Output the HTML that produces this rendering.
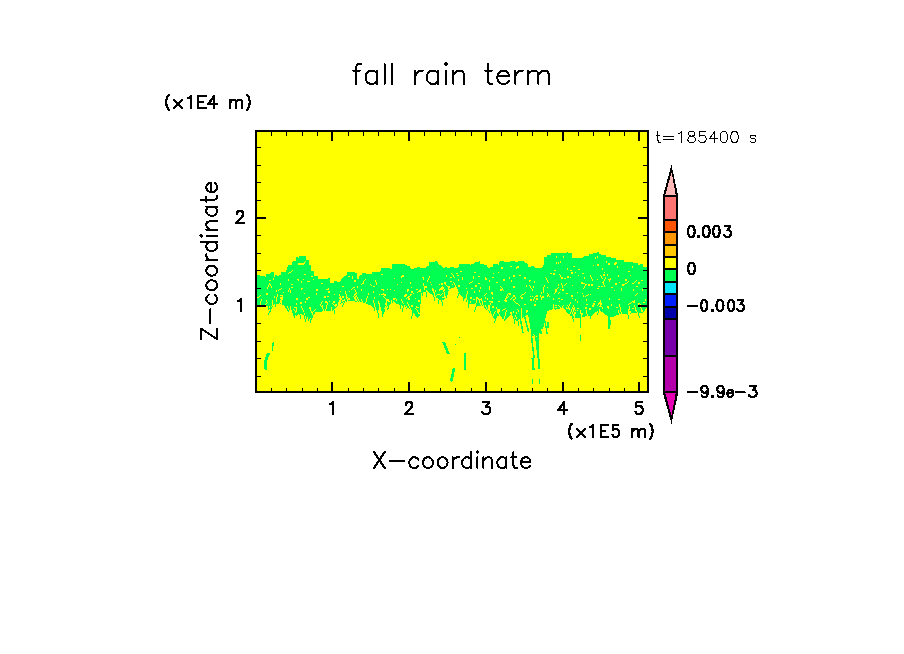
<!DOCTYPE html><html><head><meta charset="utf-8"><style>html,body{margin:0;padding:0;background:#fff;overflow:hidden}svg{display:block}</style></head><body><svg width="904" height="654" viewBox="0 0 904 654"><rect x="0" y="0" width="904" height="654" fill="#fff"/><rect x="256" y="131" width="392" height="261" fill="#ffff00"/><g shape-rendering="crispEdges"><path d="M567 252h1v1h-1zM597 252h2v1h-2zM551 253h21v1h-21zM593 253h6v1h-6zM551 254h21v1h-21zM589 254h12v1h-12zM547 255h25v1h-25zM589 255h17v1h-17zM299 256h7v1h-7zM547 256h9v1h-9zM557 256h6v1h-6zM564 256h8v1h-8zM584 256h13v1h-13zM598 256h8v1h-8zM296 257h2v1h-2zM299 257h7v1h-7zM544 257h12v1h-12zM557 257h6v1h-6zM564 257h8v1h-8zM583 257h12v1h-12zM596 257h1v1h-1zM598 257h13v1h-13zM296 258h10v1h-10zM544 258h51v1h-51zM596 258h20v1h-20zM296 259h10v1h-10zM544 259h72v1h-72zM296 260h13v1h-13zM544 260h80v1h-80zM293 261h12v1h-12zM306 261h3v1h-3zM435 261h2v1h-2zM479 261h1v1h-1zM500 261h4v1h-4zM510 261h5v1h-5zM518 261h6v1h-6zM544 261h16v1h-16zM561 261h45v1h-45zM607 261h17v1h-17zM292 262h12v1h-12zM305 262h4v1h-4zM429 262h9v1h-9zM475 262h5v1h-5zM499 262h26v1h-26zM544 262h12v1h-12zM557 262h1v1h-1zM559 262h1v1h-1zM561 262h45v1h-45zM607 262h8v1h-8zM617 262h16v1h-16zM292 263h12v1h-12zM305 263h4v1h-4zM429 263h9v1h-9zM474 263h6v1h-6zM499 263h28v1h-28zM544 263h12v1h-12zM557 263h1v1h-1zM559 263h49v1h-49zM610 263h4v1h-4zM617 263h21v1h-21zM292 264h11v1h-11zM304 264h5v1h-5zM392 264h13v1h-13zM429 264h10v1h-10zM459 264h11v1h-11zM471 264h13v1h-13zM493 264h5v1h-5zM499 264h29v1h-29zM544 264h53v1h-53zM599 264h9v1h-9zM610 264h4v1h-4zM616 264h22v1h-22zM640 264h3v1h-3zM288 265h23v1h-23zM392 265h15v1h-15zM429 265h12v1h-12zM459 265h28v1h-28zM493 265h35v1h-35zM543 265h50v1h-50zM594 265h3v1h-3zM599 265h44v1h-44zM288 266h23v1h-23zM392 266h18v1h-18zM427 266h15v1h-15zM459 266h28v1h-28zM493 266h17v1h-17zM512 266h5v1h-5zM519 266h9v1h-9zM531 266h3v1h-3zM543 266h30v1h-30zM575 266h42v1h-42zM618 266h14v1h-14zM633 266h10v1h-10zM287 267h24v1h-24zM392 267h18v1h-18zM417 267h3v1h-3zM426 267h17v1h-17zM445 267h2v1h-2zM450 267h4v1h-4zM458 267h30v1h-30zM490 267h11v1h-11zM503 267h13v1h-13zM519 267h16v1h-16zM542 267h75v1h-75zM618 267h14v1h-14zM633 267h14v1h-14zM287 268h24v1h-24zM381 268h9v1h-9zM392 268h19v1h-19zM414 268h87v1h-87zM503 268h13v1h-13zM517 268h50v1h-50zM568 268h34v1h-34zM603 268h44v1h-44zM287 269h24v1h-24zM381 269h186v1h-186zM568 269h10v1h-10zM580 269h22v1h-22zM603 269h44v1h-44zM286 270h6v1h-6zM293 270h18v1h-18zM381 270h173v1h-173zM556 270h14v1h-14zM572 270h75v1h-75zM286 271h5v1h-5zM292 271h22v1h-22zM380 271h80v1h-80zM462 271h166v1h-166zM630 271h17v1h-17zM271 272h3v1h-3zM281 272h8v1h-8zM291 272h23v1h-23zM347 272h8v1h-8zM372 272h102v1h-102zM476 272h22v1h-22zM499 272h72v1h-72zM573 272h2v1h-2zM576 272h28v1h-28zM605 272h42v1h-42zM270 273h4v1h-4zM281 273h7v1h-7zM289 273h25v1h-25zM347 273h10v1h-10zM362 273h4v1h-4zM372 273h79v1h-79zM452 273h4v1h-4zM458 273h35v1h-35zM494 273h56v1h-56zM552 273h1v1h-1zM555 273h16v1h-16zM573 273h9v1h-9zM584 273h63v1h-63zM266 274h8v1h-8zM281 274h23v1h-23zM306 274h8v1h-8zM347 274h10v1h-10zM362 274h19v1h-19zM383 274h69v1h-69zM453 274h100v1h-100zM555 274h4v1h-4zM560 274h43v1h-43zM605 274h2v1h-2zM608 274h39v1h-39zM257 275h3v1h-3zM266 275h8v1h-8zM275 275h2v1h-2zM279 275h35v1h-35zM346 275h11v1h-11zM360 275h42v1h-42zM404 275h42v1h-42zM447 275h6v1h-6zM454 275h3v1h-3zM459 275h54v1h-54zM515 275h4v1h-4zM521 275h39v1h-39zM561 275h17v1h-17zM579 275h11v1h-11zM591 275h9v1h-9zM601 275h2v1h-2zM605 275h2v1h-2zM608 275h10v1h-10zM619 275h11v1h-11zM631 275h16v1h-16zM257 276h8v1h-8zM266 276h8v1h-8zM275 276h36v1h-36zM313 276h5v1h-5zM344 276h4v1h-4zM350 276h2v1h-2zM353 276h4v1h-4zM359 276h42v1h-42zM404 276h25v1h-25zM430 276h16v1h-16zM447 276h6v1h-6zM454 276h19v1h-19zM474 276h4v1h-4zM480 276h33v1h-33zM515 276h45v1h-45zM561 276h6v1h-6zM569 276h21v1h-21zM591 276h10v1h-10zM602 276h16v1h-16zM619 276h28v1h-28zM257 277h61v1h-61zM343 277h9v1h-9zM353 277h4v1h-4zM359 277h42v1h-42zM402 277h20v1h-20zM424 277h5v1h-5zM430 277h20v1h-20zM452 277h2v1h-2zM455 277h7v1h-7zM463 277h10v1h-10zM474 277h11v1h-11zM486 277h6v1h-6zM494 277h15v1h-15zM510 277h14v1h-14zM526 277h19v1h-19zM546 277h15v1h-15zM563 277h4v1h-4zM569 277h1v1h-1zM571 277h13v1h-13zM585 277h6v1h-6zM592 277h9v1h-9zM602 277h3v1h-3zM606 277h41v1h-41zM257 278h16v1h-16zM274 278h44v1h-44zM328 278h2v1h-2zM342 278h10v1h-10zM353 278h4v1h-4zM359 278h35v1h-35zM395 278h28v1h-28zM424 278h4v1h-4zM429 278h33v1h-33zM463 278h10v1h-10zM474 278h11v1h-11zM487 278h22v1h-22zM510 278h14v1h-14zM526 278h20v1h-20zM547 278h14v1h-14zM563 278h1v1h-1zM566 278h18v1h-18zM585 278h6v1h-6zM592 278h10v1h-10zM603 278h2v1h-2zM606 278h4v1h-4zM611 278h36v1h-36zM257 279h16v1h-16zM274 279h14v1h-14zM289 279h8v1h-8zM299 279h4v1h-4zM304 279h9v1h-9zM314 279h16v1h-16zM341 279h24v1h-24zM366 279h57v1h-57zM424 279h4v1h-4zM429 279h29v1h-29zM459 279h3v1h-3zM463 279h22v1h-22zM487 279h16v1h-16zM505 279h41v1h-41zM547 279h45v1h-45zM593 279h4v1h-4zM598 279h6v1h-6zM605 279h3v1h-3zM611 279h14v1h-14zM627 279h20v1h-20zM257 280h12v1h-12zM271 280h17v1h-17zM289 280h9v1h-9zM299 280h31v1h-31zM341 280h13v1h-13zM356 280h8v1h-8zM365 280h10v1h-10zM376 280h51v1h-51zM428 280h30v1h-30zM459 280h30v1h-30zM490 280h13v1h-13zM505 280h6v1h-6zM512 280h17v1h-17zM531 280h16v1h-16zM548 280h44v1h-44zM593 280h11v1h-11zM605 280h4v1h-4zM610 280h15v1h-15zM627 280h9v1h-9zM637 280h4v1h-4zM643 280h4v1h-4zM257 281h44v1h-44zM302 281h5v1h-5zM310 281h20v1h-20zM334 281h3v1h-3zM340 281h14v1h-14zM356 281h7v1h-7zM364 281h11v1h-11zM376 281h51v1h-51zM428 281h22v1h-22zM452 281h20v1h-20zM473 281h16v1h-16zM490 281h21v1h-21zM512 281h17v1h-17zM530 281h4v1h-4zM535 281h12v1h-12zM548 281h55v1h-55zM604 281h5v1h-5zM610 281h18v1h-18zM629 281h6v1h-6zM636 281h11v1h-11zM257 282h44v1h-44zM302 282h28v1h-28zM334 282h29v1h-29zM364 282h12v1h-12zM377 282h24v1h-24zM402 282h8v1h-8zM411 282h19v1h-19zM431 282h13v1h-13zM446 282h7v1h-7zM454 282h16v1h-16zM472 282h24v1h-24zM498 282h36v1h-36zM535 282h13v1h-13zM549 282h32v1h-32zM583 282h19v1h-19zM604 282h15v1h-15zM620 282h7v1h-7zM628 282h6v1h-6zM635 282h3v1h-3zM640 282h7v1h-7zM257 283h12v1h-12zM270 283h10v1h-10zM281 283h40v1h-40zM323 283h39v1h-39zM364 283h12v1h-12zM377 283h33v1h-33zM411 283h12v1h-12zM424 283h17v1h-17zM443 283h1v1h-1zM446 283h8v1h-8zM455 283h14v1h-14zM470 283h8v1h-8zM480 283h81v1h-81zM562 283h4v1h-4zM567 283h14v1h-14zM585 283h18v1h-18zM604 283h11v1h-11zM617 283h8v1h-8zM627 283h5v1h-5zM634 283h4v1h-4zM640 283h7v1h-7zM257 284h12v1h-12zM271 284h9v1h-9zM281 284h10v1h-10zM293 284h68v1h-68zM362 284h8v1h-8zM371 284h5v1h-5zM377 284h20v1h-20zM398 284h25v1h-25zM424 284h7v1h-7zM432 284h7v1h-7zM440 284h1v1h-1zM443 284h2v1h-2zM446 284h6v1h-6zM453 284h1v1h-1zM455 284h103v1h-103zM559 284h2v1h-2zM562 284h3v1h-3zM566 284h19v1h-19zM587 284h1v1h-1zM590 284h1v1h-1zM593 284h10v1h-10zM604 284h11v1h-11zM617 284h5v1h-5zM625 284h22v1h-22zM257 285h11v1h-11zM269 285h1v1h-1zM271 285h100v1h-100zM372 285h51v1h-51zM424 285h22v1h-22zM447 285h8v1h-8zM456 285h2v1h-2zM460 285h15v1h-15zM477 285h49v1h-49zM527 285h2v1h-2zM530 285h14v1h-14zM545 285h13v1h-13zM559 285h3v1h-3zM563 285h1v1h-1zM565 285h7v1h-7zM573 285h12v1h-12zM586 285h2v1h-2zM590 285h1v1h-1zM593 285h11v1h-11zM605 285h17v1h-17zM624 285h23v1h-23zM257 286h11v1h-11zM269 286h2v1h-2zM272 286h70v1h-70zM344 286h13v1h-13zM358 286h15v1h-15zM375 286h49v1h-49zM427 286h15v1h-15zM443 286h4v1h-4zM450 286h5v1h-5zM456 286h2v1h-2zM460 286h15v1h-15zM477 286h12v1h-12zM490 286h10v1h-10zM501 286h12v1h-12zM515 286h11v1h-11zM527 286h3v1h-3zM531 286h2v1h-2zM534 286h10v1h-10zM545 286h17v1h-17zM563 286h21v1h-21zM585 286h13v1h-13zM600 286h1v1h-1zM603 286h1v1h-1zM605 286h31v1h-31zM638 286h9v1h-9zM257 287h10v1h-10zM268 287h3v1h-3zM272 287h19v1h-19zM293 287h60v1h-60zM355 287h2v1h-2zM358 287h53v1h-53zM412 287h12v1h-12zM427 287h14v1h-14zM444 287h4v1h-4zM450 287h4v1h-4zM457 287h23v1h-23zM481 287h8v1h-8zM490 287h11v1h-11zM502 287h11v1h-11zM515 287h15v1h-15zM531 287h2v1h-2zM534 287h9v1h-9zM544 287h3v1h-3zM548 287h10v1h-10zM559 287h3v1h-3zM563 287h21v1h-21zM585 287h26v1h-26zM613 287h34v1h-34zM257 288h10v1h-10zM268 288h13v1h-13zM282 288h7v1h-7zM290 288h11v1h-11zM303 288h25v1h-25zM329 288h23v1h-23zM353 288h71v1h-71zM425 288h7v1h-7zM433 288h7v1h-7zM444 288h4v1h-4zM449 288h2v1h-2zM457 288h9v1h-9zM467 288h4v1h-4zM473 288h7v1h-7zM481 288h8v1h-8zM490 288h12v1h-12zM503 288h28v1h-28zM532 288h11v1h-11zM544 288h13v1h-13zM558 288h25v1h-25zM584 288h13v1h-13zM599 288h22v1h-22zM622 288h25v1h-25zM257 289h22v1h-22zM281 289h8v1h-8zM290 289h11v1h-11zM302 289h14v1h-14zM318 289h8v1h-8zM329 289h22v1h-22zM352 289h2v1h-2zM355 289h6v1h-6zM362 289h19v1h-19zM384 289h3v1h-3zM388 289h2v1h-2zM391 289h16v1h-16zM409 289h7v1h-7zM418 289h2v1h-2zM421 289h3v1h-3zM425 289h7v1h-7zM434 289h5v1h-5zM443 289h1v1h-1zM445 289h3v1h-3zM458 289h31v1h-31zM490 289h10v1h-10zM503 289h29v1h-29zM533 289h10v1h-10zM544 289h11v1h-11zM557 289h3v1h-3zM561 289h1v1h-1zM564 289h57v1h-57zM622 289h11v1h-11zM634 289h8v1h-8zM643 289h4v1h-4zM257 290h19v1h-19zM277 290h1v1h-1zM279 290h9v1h-9zM289 290h1v1h-1zM291 290h25v1h-25zM318 290h37v1h-37zM356 290h5v1h-5zM362 290h21v1h-21zM384 290h10v1h-10zM395 290h12v1h-12zM409 290h10v1h-10zM421 290h5v1h-5zM427 290h5v1h-5zM434 290h1v1h-1zM436 290h3v1h-3zM440 290h3v1h-3zM445 290h4v1h-4zM458 290h21v1h-21zM480 290h20v1h-20zM502 290h1v1h-1zM504 290h28v1h-28zM533 290h10v1h-10zM544 290h11v1h-11zM557 290h5v1h-5zM564 290h50v1h-50zM615 290h6v1h-6zM622 290h11v1h-11zM634 290h8v1h-8zM643 290h4v1h-4zM257 291h19v1h-19zM277 291h11v1h-11zM289 291h1v1h-1zM291 291h37v1h-37zM330 291h10v1h-10zM341 291h4v1h-4zM346 291h3v1h-3zM350 291h5v1h-5zM356 291h17v1h-17zM374 291h33v1h-33zM408 291h3v1h-3zM413 291h5v1h-5zM421 291h5v1h-5zM428 291h5v1h-5zM434 291h1v1h-1zM436 291h7v1h-7zM444 291h4v1h-4zM458 291h9v1h-9zM468 291h6v1h-6zM475 291h4v1h-4zM480 291h63v1h-63zM544 291h11v1h-11zM557 291h90v1h-90zM257 292h26v1h-26zM284 292h6v1h-6zM291 292h37v1h-37zM330 292h15v1h-15zM346 292h10v1h-10zM357 292h16v1h-16zM374 292h37v1h-37zM413 292h4v1h-4zM418 292h5v1h-5zM426 292h1v1h-1zM429 292h4v1h-4zM435 292h9v1h-9zM445 292h3v1h-3zM459 292h8v1h-8zM468 292h6v1h-6zM475 292h16v1h-16zM493 292h32v1h-32zM526 292h15v1h-15zM542 292h1v1h-1zM544 292h11v1h-11zM556 292h3v1h-3zM560 292h17v1h-17zM578 292h69v1h-69zM257 293h9v1h-9zM268 293h36v1h-36zM305 293h11v1h-11zM317 293h28v1h-28zM346 293h9v1h-9zM357 293h11v1h-11zM369 293h14v1h-14zM384 293h29v1h-29zM414 293h7v1h-7zM422 293h1v1h-1zM426 293h1v1h-1zM430 293h4v1h-4zM435 293h7v1h-7zM443 293h1v1h-1zM445 293h3v1h-3zM458 293h9v1h-9zM468 293h18v1h-18zM487 293h4v1h-4zM493 293h15v1h-15zM511 293h13v1h-13zM525 293h16v1h-16zM542 293h5v1h-5zM548 293h6v1h-6zM555 293h3v1h-3zM559 293h7v1h-7zM568 293h14v1h-14zM583 293h54v1h-54zM638 293h9v1h-9zM257 294h9v1h-9zM268 294h9v1h-9zM278 294h38v1h-38zM317 294h17v1h-17zM335 294h4v1h-4zM340 294h6v1h-6zM347 294h7v1h-7zM356 294h12v1h-12zM369 294h10v1h-10zM380 294h1v1h-1zM386 294h19v1h-19zM407 294h3v1h-3zM412 294h9v1h-9zM422 294h1v1h-1zM426 294h1v1h-1zM432 294h2v1h-2zM435 294h2v1h-2zM440 294h1v1h-1zM442 294h2v1h-2zM445 294h3v1h-3zM458 294h1v1h-1zM460 294h6v1h-6zM467 294h18v1h-18zM486 294h6v1h-6zM493 294h14v1h-14zM508 294h1v1h-1zM511 294h11v1h-11zM524 294h24v1h-24zM549 294h39v1h-39zM589 294h1v1h-1zM591 294h45v1h-45zM637 294h10v1h-10zM257 295h3v1h-3zM261 295h16v1h-16zM278 295h2v1h-2zM283 295h56v1h-56zM340 295h6v1h-6zM347 295h7v1h-7zM355 295h1v1h-1zM357 295h27v1h-27zM386 295h18v1h-18zM407 295h3v1h-3zM411 295h10v1h-10zM422 295h1v1h-1zM426 295h1v1h-1zM433 295h1v1h-1zM435 295h1v1h-1zM437 295h3v1h-3zM441 295h3v1h-3zM445 295h2v1h-2zM458 295h1v1h-1zM461 295h5v1h-5zM467 295h17v1h-17zM485 295h22v1h-22zM508 295h5v1h-5zM515 295h6v1h-6zM522 295h14v1h-14zM538 295h2v1h-2zM541 295h6v1h-6zM549 295h22v1h-22zM573 295h10v1h-10zM584 295h2v1h-2zM588 295h47v1h-47zM636 295h11v1h-11zM257 296h2v1h-2zM260 296h14v1h-14zM275 296h2v1h-2zM278 296h4v1h-4zM283 296h41v1h-41zM326 296h1v1h-1zM329 296h11v1h-11zM341 296h1v1h-1zM344 296h2v1h-2zM347 296h6v1h-6zM354 296h1v1h-1zM357 296h10v1h-10zM368 296h15v1h-15zM384 296h20v1h-20zM406 296h2v1h-2zM410 296h11v1h-11zM426 296h1v1h-1zM433 296h1v1h-1zM436 296h8v1h-8zM446 296h1v1h-1zM457 296h1v1h-1zM462 296h4v1h-4zM467 296h39v1h-39zM507 296h1v1h-1zM509 296h4v1h-4zM515 296h5v1h-5zM521 296h9v1h-9zM531 296h1v1h-1zM533 296h2v1h-2zM538 296h2v1h-2zM541 296h1v1h-1zM544 296h3v1h-3zM548 296h1v1h-1zM550 296h21v1h-21zM573 296h10v1h-10zM584 296h1v1h-1zM586 296h61v1h-61zM259 297h15v1h-15zM275 297h1v1h-1zM277 297h3v1h-3zM283 297h25v1h-25zM310 297h14v1h-14zM326 297h13v1h-13zM341 297h1v1h-1zM344 297h2v1h-2zM348 297h6v1h-6zM356 297h1v1h-1zM358 297h9v1h-9zM368 297h6v1h-6zM375 297h9v1h-9zM385 297h22v1h-22zM409 297h12v1h-12zM434 297h1v1h-1zM436 297h6v1h-6zM446 297h1v1h-1zM457 297h1v1h-1zM463 297h3v1h-3zM467 297h3v1h-3zM472 297h4v1h-4zM478 297h7v1h-7zM486 297h6v1h-6zM493 297h13v1h-13zM508 297h4v1h-4zM513 297h2v1h-2zM516 297h5v1h-5zM523 297h11v1h-11zM535 297h6v1h-6zM544 297h103v1h-103zM257 298h19v1h-19zM277 298h3v1h-3zM283 298h13v1h-13zM298 298h8v1h-8zM308 298h31v1h-31zM342 298h4v1h-4zM347 298h1v1h-1zM350 298h4v1h-4zM356 298h1v1h-1zM358 298h8v1h-8zM367 298h7v1h-7zM375 298h10v1h-10zM386 298h7v1h-7zM396 298h10v1h-10zM407 298h1v1h-1zM410 298h5v1h-5zM416 298h5v1h-5zM434 298h1v1h-1zM438 298h7v1h-7zM463 298h2v1h-2zM467 298h3v1h-3zM472 298h4v1h-4zM479 298h2v1h-2zM482 298h3v1h-3zM486 298h1v1h-1zM488 298h4v1h-4zM493 298h12v1h-12zM507 298h4v1h-4zM512 298h3v1h-3zM516 298h5v1h-5zM523 298h11v1h-11zM535 298h1v1h-1zM538 298h3v1h-3zM542 298h11v1h-11zM554 298h4v1h-4zM560 298h12v1h-12zM573 298h36v1h-36zM610 298h37v1h-37zM257 299h4v1h-4zM262 299h14v1h-14zM277 299h4v1h-4zM283 299h13v1h-13zM298 299h8v1h-8zM308 299h32v1h-32zM342 299h2v1h-2zM345 299h2v1h-2zM350 299h5v1h-5zM357 299h1v1h-1zM359 299h2v1h-2zM362 299h4v1h-4zM367 299h19v1h-19zM389 299h4v1h-4zM395 299h1v1h-1zM397 299h4v1h-4zM402 299h6v1h-6zM410 299h11v1h-11zM434 299h1v1h-1zM439 299h5v1h-5zM463 299h1v1h-1zM467 299h6v1h-6zM475 299h1v1h-1zM477 299h1v1h-1zM482 299h5v1h-5zM488 299h17v1h-17zM506 299h4v1h-4zM511 299h2v1h-2zM515 299h15v1h-15zM532 299h1v1h-1zM534 299h2v1h-2zM538 299h3v1h-3zM542 299h11v1h-11zM554 299h7v1h-7zM563 299h12v1h-12zM576 299h10v1h-10zM587 299h22v1h-22zM610 299h8v1h-8zM620 299h25v1h-25zM646 299h1v1h-1zM257 300h4v1h-4zM262 300h4v1h-4zM267 300h5v1h-5zM273 300h3v1h-3zM277 300h3v1h-3zM282 300h57v1h-57zM341 300h1v1h-1zM345 300h2v1h-2zM348 300h7v1h-7zM357 300h1v1h-1zM359 300h2v1h-2zM362 300h4v1h-4zM367 300h6v1h-6zM374 300h12v1h-12zM389 300h2v1h-2zM392 300h4v1h-4zM397 300h4v1h-4zM402 300h16v1h-16zM420 300h1v1h-1zM434 300h1v1h-1zM438 300h1v1h-1zM441 300h1v1h-1zM463 300h1v1h-1zM466 300h1v1h-1zM468 300h8v1h-8zM477 300h2v1h-2zM480 300h1v1h-1zM482 300h22v1h-22zM507 300h6v1h-6zM514 300h16v1h-16zM532 300h1v1h-1zM534 300h41v1h-41zM576 300h10v1h-10zM587 300h13v1h-13zM601 300h33v1h-33zM635 300h10v1h-10zM646 300h1v1h-1zM257 301h3v1h-3zM261 301h5v1h-5zM267 301h5v1h-5zM273 301h3v1h-3zM277 301h3v1h-3zM282 301h23v1h-23zM306 301h16v1h-16zM323 301h2v1h-2zM327 301h2v1h-2zM330 301h3v1h-3zM335 301h4v1h-4zM341 301h1v1h-1zM343 301h2v1h-2zM346 301h1v1h-1zM355 301h2v1h-2zM358 301h1v1h-1zM360 301h2v1h-2zM363 301h3v1h-3zM367 301h6v1h-6zM374 301h4v1h-4zM379 301h7v1h-7zM387 301h1v1h-1zM390 301h1v1h-1zM392 301h1v1h-1zM394 301h8v1h-8zM403 301h15v1h-15zM420 301h1v1h-1zM438 301h1v1h-1zM441 301h1v1h-1zM466 301h1v1h-1zM468 301h2v1h-2zM471 301h5v1h-5zM477 301h2v1h-2zM480 301h2v1h-2zM483 301h1v1h-1zM486 301h3v1h-3zM493 301h5v1h-5zM500 301h5v1h-5zM507 301h7v1h-7zM515 301h20v1h-20zM536 301h23v1h-23zM560 301h17v1h-17zM578 301h16v1h-16zM596 301h4v1h-4zM601 301h31v1h-31zM635 301h12v1h-12zM257 302h3v1h-3zM261 302h6v1h-6zM268 302h4v1h-4zM273 302h7v1h-7zM282 302h18v1h-18zM302 302h3v1h-3zM306 302h15v1h-15zM322 302h3v1h-3zM328 302h5v1h-5zM335 302h3v1h-3zM341 302h2v1h-2zM344 302h1v1h-1zM363 302h2v1h-2zM366 302h7v1h-7zM374 302h4v1h-4zM379 302h7v1h-7zM387 302h4v1h-4zM392 302h1v1h-1zM395 302h7v1h-7zM403 302h4v1h-4zM408 302h13v1h-13zM438 302h1v1h-1zM442 302h1v1h-1zM468 302h2v1h-2zM471 302h5v1h-5zM477 302h2v1h-2zM480 302h2v1h-2zM483 302h8v1h-8zM493 302h22v1h-22zM516 302h54v1h-54zM571 302h6v1h-6zM578 302h21v1h-21zM601 302h30v1h-30zM632 302h1v1h-1zM635 302h8v1h-8zM645 302h2v1h-2zM257 303h3v1h-3zM261 303h5v1h-5zM267 303h5v1h-5zM273 303h6v1h-6zM280 303h1v1h-1zM282 303h14v1h-14zM297 303h3v1h-3zM302 303h19v1h-19zM322 303h5v1h-5zM328 303h4v1h-4zM333 303h5v1h-5zM340 303h1v1h-1zM343 303h1v1h-1zM366 303h8v1h-8zM375 303h3v1h-3zM380 303h5v1h-5zM387 303h4v1h-4zM396 303h7v1h-7zM404 303h3v1h-3zM408 303h13v1h-13zM438 303h1v1h-1zM442 303h1v1h-1zM468 303h7v1h-7zM476 303h4v1h-4zM481 303h1v1h-1zM483 303h7v1h-7zM491 303h25v1h-25zM518 303h52v1h-52zM571 303h22v1h-22zM595 303h3v1h-3zM602 303h27v1h-27zM631 303h7v1h-7zM640 303h7v1h-7zM257 304h3v1h-3zM261 304h4v1h-4zM266 304h6v1h-6zM273 304h1v1h-1zM275 304h1v1h-1zM282 304h14v1h-14zM297 304h23v1h-23zM321 304h6v1h-6zM328 304h5v1h-5zM334 304h1v1h-1zM337 304h1v1h-1zM343 304h1v1h-1zM368 304h6v1h-6zM375 304h4v1h-4zM380 304h5v1h-5zM387 304h3v1h-3zM399 304h9v1h-9zM409 304h11v1h-11zM442 304h1v1h-1zM468 304h1v1h-1zM476 304h4v1h-4zM481 304h1v1h-1zM483 304h7v1h-7zM491 304h27v1h-27zM519 304h5v1h-5zM526 304h8v1h-8zM536 304h17v1h-17zM554 304h15v1h-15zM570 304h16v1h-16zM588 304h5v1h-5zM595 304h3v1h-3zM599 304h1v1h-1zM602 304h9v1h-9zM612 304h7v1h-7zM620 304h8v1h-8zM629 304h9v1h-9zM639 304h1v1h-1zM641 304h6v1h-6zM257 305h2v1h-2zM260 305h5v1h-5zM266 305h6v1h-6zM275 305h1v1h-1zM284 305h36v1h-36zM321 305h1v1h-1zM323 305h3v1h-3zM327 305h7v1h-7zM337 305h1v1h-1zM342 305h1v1h-1zM371 305h3v1h-3zM375 305h4v1h-4zM380 305h6v1h-6zM387 305h2v1h-2zM400 305h1v1h-1zM402 305h2v1h-2zM405 305h3v1h-3zM409 305h2v1h-2zM413 305h7v1h-7zM442 305h1v1h-1zM468 305h1v1h-1zM476 305h5v1h-5zM482 305h1v1h-1zM484 305h1v1h-1zM486 305h2v1h-2zM490 305h29v1h-29zM520 305h14v1h-14zM536 305h17v1h-17zM554 305h1v1h-1zM557 305h1v1h-1zM559 305h4v1h-4zM564 305h3v1h-3zM568 305h1v1h-1zM570 305h3v1h-3zM574 305h18v1h-18zM594 305h3v1h-3zM598 305h2v1h-2zM601 305h10v1h-10zM612 305h7v1h-7zM620 305h14v1h-14zM635 305h6v1h-6zM643 305h4v1h-4zM262 306h1v1h-1zM268 306h1v1h-1zM270 306h1v1h-1zM272 306h1v1h-1zM275 306h1v1h-1zM285 306h2v1h-2zM288 306h2v1h-2zM291 306h10v1h-10zM302 306h19v1h-19zM323 306h3v1h-3zM327 306h8v1h-8zM336 306h1v1h-1zM342 306h1v1h-1zM372 306h2v1h-2zM375 306h4v1h-4zM380 306h5v1h-5zM386 306h1v1h-1zM388 306h1v1h-1zM400 306h1v1h-1zM403 306h1v1h-1zM405 306h1v1h-1zM407 306h2v1h-2zM410 306h1v1h-1zM413 306h3v1h-3zM417 306h3v1h-3zM468 306h1v1h-1zM476 306h1v1h-1zM484 306h1v1h-1zM486 306h2v1h-2zM490 306h2v1h-2zM494 306h59v1h-59zM554 306h5v1h-5zM560 306h2v1h-2zM563 306h5v1h-5zM569 306h4v1h-4zM574 306h18v1h-18zM594 306h5v1h-5zM602 306h5v1h-5zM609 306h10v1h-10zM620 306h9v1h-9zM630 306h4v1h-4zM635 306h5v1h-5zM641 306h6v1h-6zM268 307h1v1h-1zM270 307h2v1h-2zM285 307h2v1h-2zM288 307h2v1h-2zM291 307h3v1h-3zM297 307h4v1h-4zM302 307h7v1h-7zM311 307h11v1h-11zM323 307h3v1h-3zM327 307h4v1h-4zM332 307h4v1h-4zM373 307h2v1h-2zM376 307h3v1h-3zM381 307h4v1h-4zM388 307h1v1h-1zM400 307h1v1h-1zM403 307h1v1h-1zM407 307h2v1h-2zM410 307h6v1h-6zM419 307h1v1h-1zM468 307h1v1h-1zM475 307h1v1h-1zM484 307h2v1h-2zM487 307h1v1h-1zM490 307h2v1h-2zM494 307h2v1h-2zM497 307h34v1h-34zM532 307h21v1h-21zM554 307h1v1h-1zM557 307h3v1h-3zM561 307h1v1h-1zM563 307h3v1h-3zM567 307h1v1h-1zM569 307h3v1h-3zM573 307h1v1h-1zM575 307h10v1h-10zM587 307h15v1h-15zM603 307h4v1h-4zM609 307h7v1h-7zM618 307h2v1h-2zM621 307h8v1h-8zM630 307h5v1h-5zM636 307h4v1h-4zM641 307h6v1h-6zM268 308h4v1h-4zM286 308h2v1h-2zM289 308h1v1h-1zM291 308h5v1h-5zM297 308h5v1h-5zM303 308h6v1h-6zM311 308h11v1h-11zM323 308h3v1h-3zM327 308h4v1h-4zM332 308h3v1h-3zM374 308h1v1h-1zM376 308h3v1h-3zM381 308h3v1h-3zM387 308h2v1h-2zM400 308h1v1h-1zM402 308h1v1h-1zM406 308h1v1h-1zM409 308h1v1h-1zM411 308h4v1h-4zM416 308h4v1h-4zM475 308h1v1h-1zM485 308h1v1h-1zM487 308h1v1h-1zM490 308h6v1h-6zM497 308h8v1h-8zM506 308h15v1h-15zM522 308h9v1h-9zM532 308h21v1h-21zM554 308h6v1h-6zM564 308h2v1h-2zM570 308h2v1h-2zM575 308h2v1h-2zM579 308h6v1h-6zM587 308h2v1h-2zM591 308h11v1h-11zM603 308h5v1h-5zM609 308h11v1h-11zM621 308h8v1h-8zM630 308h2v1h-2zM634 308h1v1h-1zM636 308h5v1h-5zM642 308h4v1h-4zM268 309h1v1h-1zM270 309h1v1h-1zM287 309h1v1h-1zM289 309h1v1h-1zM291 309h2v1h-2zM294 309h2v1h-2zM297 309h5v1h-5zM303 309h7v1h-7zM311 309h4v1h-4zM316 309h7v1h-7zM324 309h1v1h-1zM326 309h5v1h-5zM332 309h2v1h-2zM374 309h1v1h-1zM376 309h3v1h-3zM381 309h4v1h-4zM387 309h1v1h-1zM402 309h1v1h-1zM411 309h5v1h-5zM417 309h3v1h-3zM475 309h1v1h-1zM486 309h1v1h-1zM490 309h7v1h-7zM500 309h3v1h-3zM505 309h12v1h-12zM518 309h3v1h-3zM522 309h30v1h-30zM555 309h1v1h-1zM565 309h4v1h-4zM570 309h1v1h-1zM572 309h1v1h-1zM575 309h14v1h-14zM591 309h8v1h-8zM600 309h20v1h-20zM621 309h7v1h-7zM630 309h5v1h-5zM636 309h5v1h-5zM642 309h3v1h-3zM270 310h1v1h-1zM287 310h2v1h-2zM292 310h2v1h-2zM295 310h1v1h-1zM297 310h6v1h-6zM304 310h6v1h-6zM311 310h3v1h-3zM315 310h8v1h-8zM324 310h1v1h-1zM326 310h5v1h-5zM332 310h1v1h-1zM334 310h1v1h-1zM374 310h1v1h-1zM377 310h1v1h-1zM381 310h4v1h-4zM402 310h1v1h-1zM412 310h5v1h-5zM418 310h2v1h-2zM474 310h1v1h-1zM488 310h1v1h-1zM490 310h7v1h-7zM500 310h2v1h-2zM503 310h3v1h-3zM507 310h11v1h-11zM519 310h2v1h-2zM522 310h4v1h-4zM528 310h21v1h-21zM566 310h5v1h-5zM572 310h1v1h-1zM574 310h1v1h-1zM576 310h1v1h-1zM578 310h2v1h-2zM581 310h5v1h-5zM587 310h12v1h-12zM600 310h18v1h-18zM619 310h1v1h-1zM621 310h7v1h-7zM629 310h6v1h-6zM637 310h4v1h-4zM643 310h2v1h-2zM269 311h2v1h-2zM288 311h1v1h-1zM292 311h3v1h-3zM297 311h6v1h-6zM304 311h7v1h-7zM312 311h1v1h-1zM314 311h8v1h-8zM334 311h1v1h-1zM377 311h1v1h-1zM382 311h3v1h-3zM402 311h1v1h-1zM412 311h5v1h-5zM418 311h2v1h-2zM474 311h1v1h-1zM489 311h1v1h-1zM491 311h4v1h-4zM496 311h1v1h-1zM500 311h6v1h-6zM507 311h6v1h-6zM514 311h4v1h-4zM519 311h2v1h-2zM522 311h4v1h-4zM528 311h19v1h-19zM566 311h5v1h-5zM572 311h1v1h-1zM574 311h6v1h-6zM581 311h5v1h-5zM587 311h10v1h-10zM598 311h1v1h-1zM601 311h17v1h-17zM619 311h1v1h-1zM621 311h7v1h-7zM631 311h5v1h-5zM637 311h4v1h-4zM643 311h1v1h-1zM269 312h1v1h-1zM292 312h3v1h-3zM296 312h15v1h-15zM313 312h2v1h-2zM334 312h1v1h-1zM377 312h1v1h-1zM382 312h2v1h-2zM412 312h6v1h-6zM419 312h1v1h-1zM489 312h1v1h-1zM491 312h3v1h-3zM495 312h2v1h-2zM499 312h6v1h-6zM506 312h4v1h-4zM512 312h1v1h-1zM514 312h2v1h-2zM517 312h2v1h-2zM520 312h1v1h-1zM522 312h4v1h-4zM527 312h20v1h-20zM567 312h3v1h-3zM571 312h1v1h-1zM573 312h1v1h-1zM576 312h4v1h-4zM581 312h5v1h-5zM587 312h8v1h-8zM598 312h1v1h-1zM603 312h15v1h-15zM619 312h2v1h-2zM622 312h6v1h-6zM631 312h6v1h-6zM638 312h5v1h-5zM268 313h1v1h-1zM293 313h11v1h-11zM305 313h7v1h-7zM313 313h2v1h-2zM334 313h1v1h-1zM378 313h1v1h-1zM382 313h2v1h-2zM412 313h1v1h-1zM414 313h4v1h-4zM491 313h3v1h-3zM495 313h3v1h-3zM499 313h6v1h-6zM506 313h4v1h-4zM512 313h4v1h-4zM517 313h2v1h-2zM520 313h1v1h-1zM522 313h10v1h-10zM534 313h13v1h-13zM568 313h2v1h-2zM571 313h1v1h-1zM573 313h1v1h-1zM576 313h4v1h-4zM583 313h3v1h-3zM587 313h7v1h-7zM597 313h1v1h-1zM604 313h15v1h-15zM620 313h1v1h-1zM622 313h6v1h-6zM630 313h1v1h-1zM638 313h1v1h-1zM268 314h1v1h-1zM293 314h5v1h-5zM299 314h1v1h-1zM302 314h2v1h-2zM305 314h7v1h-7zM313 314h1v1h-1zM378 314h1v1h-1zM382 314h1v1h-1zM412 314h1v1h-1zM415 314h5v1h-5zM492 314h1v1h-1zM494 314h5v1h-5zM500 314h5v1h-5zM506 314h5v1h-5zM512 314h9v1h-9zM522 314h6v1h-6zM529 314h10v1h-10zM540 314h6v1h-6zM570 314h3v1h-3zM575 314h6v1h-6zM583 314h4v1h-4zM588 314h5v1h-5zM597 314h1v1h-1zM605 314h14v1h-14zM627 314h1v1h-1zM638 314h1v1h-1zM293 315h2v1h-2zM296 315h1v1h-1zM300 315h1v1h-1zM304 315h9v1h-9zM378 315h1v1h-1zM382 315h1v1h-1zM412 315h1v1h-1zM415 315h5v1h-5zM492 315h1v1h-1zM494 315h5v1h-5zM500 315h5v1h-5zM506 315h4v1h-4zM512 315h3v1h-3zM516 315h5v1h-5zM522 315h4v1h-4zM529 315h6v1h-6zM536 315h10v1h-10zM570 315h3v1h-3zM575 315h6v1h-6zM582 315h5v1h-5zM588 315h4v1h-4zM607 315h9v1h-9zM628 315h1v1h-1zM638 315h1v1h-1zM294 316h1v1h-1zM300 316h1v1h-1zM304 316h1v1h-1zM306 316h7v1h-7zM378 316h1v1h-1zM382 316h1v1h-1zM411 316h1v1h-1zM416 316h3v1h-3zM493 316h4v1h-4zM501 316h3v1h-3zM505 316h4v1h-4zM513 316h2v1h-2zM516 316h5v1h-5zM522 316h2v1h-2zM529 316h7v1h-7zM538 316h8v1h-8zM572 316h2v1h-2zM575 316h6v1h-6zM582 316h3v1h-3zM590 316h1v1h-1zM608 316h6v1h-6zM628 316h1v1h-1zM639 316h1v1h-1zM294 317h1v1h-1zM300 317h1v1h-1zM304 317h1v1h-1zM306 317h1v1h-1zM308 317h5v1h-5zM378 317h1v1h-1zM411 317h1v1h-1zM417 317h1v1h-1zM493 317h4v1h-4zM502 317h2v1h-2zM505 317h3v1h-3zM513 317h3v1h-3zM517 317h4v1h-4zM522 317h1v1h-1zM529 317h7v1h-7zM538 317h8v1h-8zM572 317h2v1h-2zM575 317h6v1h-6zM590 317h1v1h-1zM609 317h1v1h-1zM628 317h1v1h-1zM639 317h1v1h-1zM300 318h1v1h-1zM304 318h1v1h-1zM306 318h1v1h-1zM308 318h2v1h-2zM311 318h1v1h-1zM411 318h1v1h-1zM494 318h2v1h-2zM502 318h2v1h-2zM505 318h2v1h-2zM513 318h1v1h-1zM515 318h1v1h-1zM517 318h4v1h-4zM530 318h15v1h-15zM572 318h1v1h-1zM590 318h1v1h-1zM609 318h1v1h-1zM628 318h1v1h-1zM305 319h1v1h-1zM308 319h1v1h-1zM310 319h2v1h-2zM495 319h1v1h-1zM504 319h2v1h-2zM514 319h5v1h-5zM530 319h15v1h-15zM573 319h1v1h-1zM609 319h1v1h-1zM305 320h1v1h-1zM308 320h1v1h-1zM310 320h1v1h-1zM495 320h1v1h-1zM504 320h1v1h-1zM514 320h1v1h-1zM516 320h2v1h-2zM530 320h15v1h-15zM573 320h1v1h-1zM610 320h1v1h-1zM305 321h1v1h-1zM310 321h1v1h-1zM494 321h1v1h-1zM514 321h1v1h-1zM518 321h1v1h-1zM530 321h15v1h-15zM573 321h1v1h-1zM610 321h1v1h-1zM310 322h1v1h-1zM494 322h1v1h-1zM514 322h1v1h-1zM518 322h1v1h-1zM530 322h15v1h-15zM610 322h1v1h-1zM514 323h1v1h-1zM518 323h1v1h-1zM530 323h5v1h-5zM536 323h8v1h-8zM610 323h1v1h-1zM518 324h1v1h-1zM530 324h6v1h-6zM537 324h7v1h-7zM610 324h1v1h-1zM518 325h1v1h-1zM530 325h6v1h-6zM537 325h7v1h-7zM530 326h14v1h-14zM530 327h13v1h-13zM534 328h9v1h-9zM531 329h2v1h-2zM534 329h4v1h-4zM539 329h2v1h-2zM531 330h7v1h-7zM539 330h2v1h-2zM531 331h7v1h-7zM539 331h3v1h-3zM531 332h11v1h-11zM531 333h8v1h-8zM540 333h2v1h-2zM538 334h1v1h-1zM537 335h1v1h-1zM537 336h1v1h-1zM536 337h1v1h-1zM536 338h1v1h-1zM535 339h1v1h-1zM535 340h1v1h-1z" fill="#00ff50" shape-rendering="crispEdges"/><polyline points="273.2,342.0 272.5,350.7" fill="none" stroke="#00ff50" stroke-width="1.2"/><polyline points="268.5,353.0 266.0,360.0 265.3,369.5" fill="none" stroke="#00ff50" stroke-width="3.0"/><polyline points="443.5,342.0 448.5,354.0" fill="none" stroke="#00ff50" stroke-width="2.6"/><polyline points="465.0,353.4 465.0,370.3" fill="none" stroke="#00ff50" stroke-width="2.2"/><polyline points="454.0,368.0 452.5,376.0 451.0,381.6" fill="none" stroke="#00ff50" stroke-width="2.6"/><polyline points="580.5,317.0 580.5,327.5" fill="none" stroke="#00ff50" stroke-width="1.5"/><polyline points="580.5,335.0 580.5,341.0" fill="none" stroke="#00ff50" stroke-width="1.5"/><polyline points="609.0,317.0 609.0,328.5" fill="none" stroke="#00ff50" stroke-width="1.5"/><polyline points="519.0,312.4 523.0,333.0" fill="none" stroke="#00ff50" stroke-width="1.5"/><polyline points="523.8,313.8 528.6,331.7" fill="none" stroke="#00ff50" stroke-width="1.5"/><polyline points="528.6,311.0 532.7,335.8" fill="none" stroke="#00ff50" stroke-width="2.0"/><polyline points="531.3,334.4 534.1,357.9" fill="none" stroke="#00ff50" stroke-width="1.5"/><polyline points="532.7,358.0 533.4,370.2" fill="none" stroke="#00ff50" stroke-width="2.5"/><polyline points="537.5,318.0 538.9,368.9" fill="none" stroke="#00ff50" stroke-width="1.8"/><polyline points="535.5,334.4 538.2,357.9" fill="none" stroke="#00ff50" stroke-width="1.5"/><polyline points="545.0,320.7 547.2,334.4" fill="none" stroke="#00ff50" stroke-width="1.3"/><polyline points="547.9,322.0 547.9,327.5" fill="none" stroke="#00ff50" stroke-width="1.2"/><path d="M529 306 L545 306 L542 318 L539.5 330 L536.5 336 L533 334 L531 322 Z" fill="#00ff50"/><path d="M298 263h6v2h-6z" fill="#ffff00"/><rect x="531.5" y="379.0" width="1.2" height="4.5" fill="#00ff50"/><rect x="538.5" y="379.0" width="1.2" height="4.5" fill="#00ff50"/><rect x="459.0" y="337.0" width="1.0" height="1.0" fill="#00ff50"/><rect x="455.0" y="344.0" width="1.0" height="1.0" fill="#00ff50"/></g><g shape-rendering="crispEdges"><rect x="271" y="132" width="1" height="4" fill="#000"/><rect x="271" y="388" width="1" height="3" fill="#000"/><rect x="286" y="132" width="1" height="4" fill="#000"/><rect x="286" y="388" width="1" height="3" fill="#000"/><rect x="302" y="132" width="1" height="4" fill="#000"/><rect x="302" y="388" width="1" height="3" fill="#000"/><rect x="317" y="132" width="1" height="4" fill="#000"/><rect x="317" y="388" width="1" height="3" fill="#000"/><rect x="331" y="132" width="2" height="9" fill="#000"/><rect x="331" y="382" width="2" height="9" fill="#000"/><rect x="348" y="132" width="1" height="4" fill="#000"/><rect x="348" y="388" width="1" height="3" fill="#000"/><rect x="363" y="132" width="1" height="4" fill="#000"/><rect x="363" y="388" width="1" height="3" fill="#000"/><rect x="378" y="132" width="1" height="4" fill="#000"/><rect x="378" y="388" width="1" height="3" fill="#000"/><rect x="394" y="132" width="1" height="4" fill="#000"/><rect x="394" y="388" width="1" height="3" fill="#000"/><rect x="408" y="132" width="2" height="9" fill="#000"/><rect x="408" y="382" width="2" height="9" fill="#000"/><rect x="424" y="132" width="1" height="4" fill="#000"/><rect x="424" y="388" width="1" height="3" fill="#000"/><rect x="440" y="132" width="1" height="4" fill="#000"/><rect x="440" y="388" width="1" height="3" fill="#000"/><rect x="455" y="132" width="1" height="4" fill="#000"/><rect x="455" y="388" width="1" height="3" fill="#000"/><rect x="471" y="132" width="1" height="4" fill="#000"/><rect x="471" y="388" width="1" height="3" fill="#000"/><rect x="485" y="132" width="2" height="9" fill="#000"/><rect x="485" y="382" width="2" height="9" fill="#000"/><rect x="501" y="132" width="1" height="4" fill="#000"/><rect x="501" y="388" width="1" height="3" fill="#000"/><rect x="517" y="132" width="1" height="4" fill="#000"/><rect x="517" y="388" width="1" height="3" fill="#000"/><rect x="532" y="132" width="1" height="4" fill="#000"/><rect x="532" y="388" width="1" height="3" fill="#000"/><rect x="547" y="132" width="1" height="4" fill="#000"/><rect x="547" y="388" width="1" height="3" fill="#000"/><rect x="562" y="132" width="2" height="9" fill="#000"/><rect x="562" y="382" width="2" height="9" fill="#000"/><rect x="578" y="132" width="1" height="4" fill="#000"/><rect x="578" y="388" width="1" height="3" fill="#000"/><rect x="593" y="132" width="1" height="4" fill="#000"/><rect x="593" y="388" width="1" height="3" fill="#000"/><rect x="609" y="132" width="1" height="4" fill="#000"/><rect x="609" y="388" width="1" height="3" fill="#000"/><rect x="624" y="132" width="1" height="4" fill="#000"/><rect x="624" y="388" width="1" height="3" fill="#000"/><rect x="638" y="132" width="2" height="9" fill="#000"/><rect x="638" y="382" width="2" height="9" fill="#000"/><rect x="257" y="376" width="4" height="1" fill="#000"/><rect x="643" y="376" width="4" height="1" fill="#000"/><rect x="257" y="358" width="4" height="1" fill="#000"/><rect x="643" y="358" width="4" height="1" fill="#000"/><rect x="257" y="341" width="4" height="1" fill="#000"/><rect x="643" y="341" width="4" height="1" fill="#000"/><rect x="257" y="323" width="4" height="1" fill="#000"/><rect x="643" y="323" width="4" height="1" fill="#000"/><rect x="257" y="305" width="9" height="2" fill="#000"/><rect x="638" y="305" width="9" height="2" fill="#000"/><rect x="257" y="288" width="4" height="1" fill="#000"/><rect x="643" y="288" width="4" height="1" fill="#000"/><rect x="257" y="270" width="4" height="1" fill="#000"/><rect x="643" y="270" width="4" height="1" fill="#000"/><rect x="257" y="253" width="4" height="1" fill="#000"/><rect x="643" y="253" width="4" height="1" fill="#000"/><rect x="257" y="235" width="4" height="1" fill="#000"/><rect x="643" y="235" width="4" height="1" fill="#000"/><rect x="257" y="217" width="9" height="2" fill="#000"/><rect x="638" y="217" width="9" height="2" fill="#000"/><rect x="257" y="200" width="4" height="1" fill="#000"/><rect x="643" y="200" width="4" height="1" fill="#000"/><rect x="257" y="182" width="4" height="1" fill="#000"/><rect x="643" y="182" width="4" height="1" fill="#000"/><rect x="257" y="165" width="4" height="1" fill="#000"/><rect x="643" y="165" width="4" height="1" fill="#000"/><rect x="257" y="147" width="4" height="1" fill="#000"/><rect x="643" y="147" width="4" height="1" fill="#000"/></g><path d="M255 130h394v2h-394zM255 391h394v2h-394zM255 130h2v263h-2zM647 130h2v263h-2z" fill="#000" shape-rendering="crispEdges"/><g shape-rendering="crispEdges"><path d="M360.75 63.95 358.84 63.95 356.93 64.90 355.97 67.77 355.97 84.00M353.11 70.63 359.79 70.63M376.98 70.63 376.98 84.00M376.98 73.50 375.07 71.59 373.16 70.63 370.30 70.63 368.39 71.59 366.48 73.50 365.52 76.36 365.52 78.27 366.48 81.14 368.39 83.05 370.30 84.00 373.16 84.00 375.07 83.05 376.98 81.14M384.62 63.95 384.62 84.00M392.26 63.95 392.26 84.00M415.19 70.63 415.19 84.00M415.19 76.36 416.14 73.50 418.05 71.59 419.96 70.63 422.82 70.63M438.10 70.63 438.10 84.00M438.10 73.50 436.19 71.59 434.28 70.63 431.42 70.63 429.51 71.59 427.60 73.50 426.64 76.36 426.64 78.27 427.60 81.14 429.51 83.05 431.42 84.00 434.28 84.00 436.19 83.05 438.10 81.14M444.79 63.95 445.74 64.90 446.70 63.95 445.74 62.99 444.79 63.95M445.74 70.63 445.74 84.00M453.38 70.63 453.38 84.00M453.38 74.45 456.25 71.59 458.16 70.63 461.02 70.63 462.94 71.59 463.89 74.45 463.89 84.00M487.76 63.95 487.76 80.18 488.72 83.05 490.63 84.00 492.54 84.00M484.90 70.63 491.59 70.63M497.31 76.36 508.77 76.36 508.77 74.45 507.82 72.54 506.87 71.59 504.95 70.63 502.09 70.63 500.18 71.59 498.27 73.50 497.31 76.36 497.31 78.27 498.27 81.14 500.18 83.05 502.09 84.00 504.95 84.00 506.87 83.05 508.77 81.14M515.46 70.63 515.46 84.00M515.46 76.36 516.41 73.50 518.32 71.59 520.24 70.63 523.10 70.63M527.88 70.63 527.88 84.00M527.88 74.45 530.74 71.59 532.65 70.63 535.51 70.63 537.42 71.59 538.38 74.45 538.38 84.00M538.38 74.45 541.24 71.59 543.15 70.63 546.02 70.63 547.93 71.59 548.88 74.45 548.88 84.00" fill="none" stroke="#000" stroke-width="2.00" stroke-linecap="round" stroke-linejoin="round"/><path d="M374.00 452.00 384.72 468.00M384.72 452.00 374.00 468.00M390.08 461.14 403.86 461.14M418.41 459.62 416.88 458.09 415.34 457.33 413.05 457.33 411.52 458.09 409.98 459.62 409.22 461.90 409.22 463.43 409.98 465.71 411.52 467.24 413.05 468.00 415.34 468.00 416.88 467.24 418.41 465.71M426.83 457.33 425.30 458.09 423.77 459.62 423.00 461.90 423.00 463.43 423.77 465.71 425.30 467.24 426.83 468.00 429.13 468.00 430.66 467.24 432.19 465.71 432.96 463.43 432.96 461.90 432.19 459.62 430.66 458.09 429.13 457.33 426.83 457.33M441.38 457.33 439.85 458.09 438.32 459.62 437.55 461.90 437.55 463.43 438.32 465.71 439.85 467.24 441.38 468.00 443.68 468.00 445.21 467.24 446.74 465.71 447.50 463.43 447.50 461.90 446.74 459.62 445.21 458.09 443.68 457.33 441.38 457.33M452.86 457.33 452.86 468.00M452.86 461.90 453.63 459.62 455.16 458.09 456.69 457.33 458.99 457.33M471.24 452.00 471.24 468.00M471.24 459.62 469.71 458.09 468.18 457.33 465.88 457.33 464.35 458.09 462.82 459.62 462.05 461.90 462.05 463.43 462.82 465.71 464.35 467.24 465.88 468.00 468.18 468.00 469.71 467.24 471.24 465.71M476.60 452.00 477.37 452.76 478.13 452.00 477.37 451.24 476.60 452.00M477.37 457.33 477.37 468.00M483.49 457.33 483.49 468.00M483.49 460.38 485.79 458.09 487.32 457.33 489.62 457.33 491.15 458.09 491.91 460.38 491.91 468.00M506.46 457.33 506.46 468.00M506.46 459.62 504.93 458.09 503.40 457.33 501.10 457.33 499.57 458.09 498.04 459.62 497.27 461.90 497.27 463.43 498.04 465.71 499.57 467.24 501.10 468.00 503.40 468.00 504.93 467.24 506.46 465.71M513.35 452.00 513.35 464.95 514.12 467.24 515.65 468.00 517.18 468.00M511.06 457.33 516.42 457.33M521.01 461.90 530.20 461.90 530.20 460.38 529.43 458.86 528.67 458.09 527.14 457.33 524.84 457.33 523.31 458.09 521.78 459.62 521.01 461.90 521.01 463.43 521.78 465.71 523.31 467.24 524.84 468.00 527.14 468.00 528.67 467.24 530.20 465.71" fill="none" stroke="#000" stroke-width="2.00" stroke-linecap="round" stroke-linejoin="round"/><path d="M201.10 328.48 217.00 339.20M201.10 339.20 201.10 328.48M217.00 339.20 217.00 328.48M210.19 323.12 210.19 309.34M208.67 294.79 207.16 296.32 206.40 297.86 206.40 300.15 207.16 301.68 208.67 303.22 210.94 303.98 212.46 303.98 214.73 303.22 216.24 301.68 217.00 300.15 217.00 297.86 216.24 296.32 214.73 294.79M206.40 286.37 207.16 287.90 208.67 289.43 210.94 290.20 212.46 290.20 214.73 289.43 216.24 287.90 217.00 286.37 217.00 284.07 216.24 282.54 214.73 281.01 212.46 280.24 210.94 280.24 208.67 281.01 207.16 282.54 206.40 284.07 206.40 286.37M206.40 271.82 207.16 273.35 208.67 274.88 210.94 275.65 212.46 275.65 214.73 274.88 216.24 273.35 217.00 271.82 217.00 269.52 216.24 267.99 214.73 266.46 212.46 265.70 210.94 265.70 208.67 266.46 207.16 267.99 206.40 269.52 206.40 271.82M206.40 260.34 217.00 260.34M210.94 260.34 208.67 259.57 207.16 258.04 206.40 256.51 206.40 254.21M201.10 241.96 217.00 241.96M208.67 241.96 207.16 243.49 206.40 245.02 206.40 247.32 207.16 248.85 208.67 250.38 210.94 251.15 212.46 251.15 214.73 250.38 216.24 248.85 217.00 247.32 217.00 245.02 216.24 243.49 214.73 241.96M201.10 236.60 201.86 235.83 201.10 235.07 200.35 235.83 201.10 236.60M206.40 235.83 217.00 235.83M206.40 229.71 217.00 229.71M209.43 229.71 207.16 227.41 206.40 225.88 206.40 223.58 207.16 222.05 209.43 221.29 217.00 221.29M206.40 206.74 217.00 206.74M208.67 206.74 207.16 208.27 206.40 209.80 206.40 212.10 207.16 213.63 208.67 215.16 210.94 215.93 212.46 215.93 214.73 215.16 216.24 213.63 217.00 212.10 217.00 209.80 216.24 208.27 214.73 206.74M201.10 199.85 213.97 199.85 216.24 199.08 217.00 197.55 217.00 196.02M206.40 202.14 206.40 196.78M210.94 192.19 210.94 183.00 209.43 183.00 207.92 183.77 207.16 184.53 206.40 186.06 206.40 188.36 207.16 189.89 208.67 191.42 210.94 192.19 212.46 192.19 214.73 191.42 216.24 189.89 217.00 188.36 217.00 186.06 216.24 184.53 214.73 183.00" fill="none" stroke="#000" stroke-width="2.00" stroke-linecap="round" stroke-linejoin="round"/><path d="M657.97 131.50 657.97 140.40 658.51 141.98 659.58 142.50 660.65 142.50M656.37 135.16 660.12 135.16M663.86 136.21 673.49 136.21M663.86 139.36 673.49 139.36M678.84 133.59 679.91 133.07 681.51 131.50 681.51 142.50M690.61 131.50 689.00 132.02 688.47 133.07 688.47 134.12 689.00 135.16 690.07 135.69 692.21 136.21 693.82 136.74 694.89 137.78 695.42 138.83 695.42 140.40 694.89 141.45 694.35 141.98 692.75 142.50 690.61 142.50 689.00 141.98 688.47 141.45 687.93 140.40 687.93 138.83 688.47 137.78 689.54 136.74 691.14 136.21 693.28 135.69 694.35 135.16 694.89 134.12 694.89 133.07 694.35 132.02 692.75 131.50 690.61 131.50M705.05 131.50 699.70 131.50 699.17 136.21 699.70 135.69 701.31 135.16 702.91 135.16 704.52 135.69 705.59 136.74 706.12 138.31 706.12 139.36 705.59 140.93 704.52 141.98 702.91 142.50 701.31 142.50 699.70 141.98 699.17 141.45 698.63 140.40M714.68 131.50 709.33 138.83 717.36 138.83M714.68 131.50 714.68 142.50M723.25 131.50 721.64 132.02 720.57 133.59 720.03 136.21 720.03 137.78 720.57 140.40 721.64 141.98 723.25 142.50 724.31 142.50 725.92 141.98 726.99 140.40 727.52 137.78 727.52 136.21 726.99 133.59 725.92 132.02 724.31 131.50 723.25 131.50M733.95 131.50 732.34 132.02 731.27 133.59 730.74 136.21 730.74 137.78 731.27 140.40 732.34 141.98 733.95 142.50 735.01 142.50 736.62 141.98 737.69 140.40 738.23 137.78 738.23 136.21 737.69 133.59 736.62 132.02 735.01 131.50 733.95 131.50M755.88 136.74 755.35 135.69 753.74 135.16 752.13 135.16 750.53 135.69 750.00 136.74 750.53 137.78 751.60 138.31 754.27 138.83 755.35 139.36 755.88 140.40 755.88 140.93 755.35 141.98 753.74 142.50 752.13 142.50 750.53 141.98 750.00 140.93" fill="none" stroke="#000" stroke-width="1.00" stroke-linecap="round" stroke-linejoin="round"/><path d="M168.85 94.87 167.88 96.01 166.92 97.72 166.43 100.01 165.95 102.29 166.43 104.57 166.92 106.86 167.88 108.57 168.85 109.71M173.95 100.01 181.85 108.00M181.85 100.01 173.95 108.00M188.15 98.29 189.23 97.72 190.85 96.01 190.85 108.00M198.25 96.01 198.25 108.00M198.25 96.01 205.85 96.01M198.25 101.72 202.93 101.72M198.25 108.00 205.85 108.00M214.02 96.01 208.35 104.00 216.85 104.00M214.02 96.01 214.02 108.00M230.15 100.01 230.15 108.00M230.15 102.29 231.77 100.58 232.85 100.01 234.48 100.01 235.56 100.58 236.10 102.29 236.10 108.00M236.10 102.29 237.72 100.58 238.80 100.01 240.43 100.01 241.51 100.58 242.05 102.29 242.05 108.00M247.15 94.87 248.05 96.01 248.95 97.72 249.40 100.01 249.85 102.29 249.40 104.57 248.95 106.86 248.05 108.57 247.15 109.71" fill="none" stroke="#000" stroke-width="2.30" stroke-linecap="round" stroke-linejoin="round"/><path d="M571.65 423.87 570.78 425.01 569.92 426.72 569.48 429.01 569.05 431.29 569.48 433.57 569.92 435.86 570.78 437.57 571.65 438.71M577.05 429.01 584.95 437.00M584.95 429.01 577.05 437.00M590.05 427.29 591.21 426.72 592.95 425.01 592.95 437.00M601.15 425.01 601.15 437.00M601.15 425.01 607.95 425.01M601.15 430.72 605.33 430.72M601.15 437.00 607.95 437.00M618.11 425.01 613.39 425.01 612.92 430.15 613.39 429.58 614.81 429.01 616.22 429.01 617.64 429.58 618.58 430.72 619.05 432.43 619.05 433.57 618.58 435.29 617.64 436.43 616.22 437.00 614.81 437.00 613.39 436.43 612.92 435.86 612.45 434.72M632.15 429.01 632.15 437.00M632.15 431.29 633.91 429.58 635.08 429.01 636.84 429.01 638.01 429.58 638.60 431.29 638.60 437.00M638.60 431.29 640.36 429.58 641.53 429.01 643.29 429.01 644.46 429.58 645.05 431.29 645.05 437.00M650.05 423.87 650.95 425.01 651.85 426.72 652.30 429.01 652.75 431.29 652.30 433.57 651.85 435.86 650.95 437.57 650.05 438.71" fill="none" stroke="#000" stroke-width="2.30" stroke-linecap="round" stroke-linejoin="round"/><path d="M330.05 404.29 331.17 403.72 332.85 402.01 332.85 414.00M405.79 404.86 405.79 404.29 406.34 403.15 406.88 402.58 407.96 402.01 410.14 402.01 411.22 402.58 411.76 403.15 412.31 404.29 412.31 405.44 411.76 406.58 410.68 408.29 405.25 414.00 412.85 414.00M483.36 402.01 489.49 402.01 486.15 406.58 487.82 406.58 488.94 407.15 489.49 407.72 490.05 409.43 490.05 410.57 489.49 412.29 488.38 413.43 486.71 414.00 485.04 414.00 483.36 413.43 482.81 412.86 482.25 411.72M563.98 402.01 558.45 410.00 566.75 410.00M563.98 402.01 563.98 414.00M641.71 402.01 636.49 402.01 635.97 407.15 636.49 406.58 638.06 406.01 639.62 406.01 641.19 406.58 642.23 407.72 642.75 409.43 642.75 410.57 642.23 412.29 641.19 413.43 639.62 414.00 638.06 414.00 636.49 413.43 635.97 412.86 635.45 411.72" fill="none" stroke="#000" stroke-width="2.30" stroke-linecap="round" stroke-linejoin="round"/><path d="M236.79 213.86 236.79 213.29 237.34 212.15 237.88 211.58 238.96 211.01 241.14 211.01 242.22 211.58 242.76 212.15 243.31 213.29 243.31 214.44 242.76 215.58 241.68 217.29 236.25 223.00 243.85 223.00" fill="none" stroke="#000" stroke-width="2.30" stroke-linecap="round" stroke-linejoin="round"/><path d="M238.05 301.29 239.17 300.72 240.85 299.01 240.85 311.00" fill="none" stroke="#000" stroke-width="2.30" stroke-linecap="round" stroke-linejoin="round"/><path d="M690.88 226.00 689.46 226.52 688.52 228.09 688.05 230.71 688.05 232.28 688.52 234.90 689.46 236.48 690.88 237.00 691.82 237.00 693.24 236.48 694.18 234.90 694.65 232.28 694.65 230.71 694.18 228.09 693.24 226.52 691.82 226.00 690.88 226.00M698.50 235.95 698.15 236.48 698.50 237.00 698.85 236.48 698.50 235.95M705.82 226.00 704.39 226.52 703.43 228.09 702.95 230.71 702.95 232.28 703.43 234.90 704.39 236.48 705.82 237.00 706.78 237.00 708.21 236.48 709.17 234.90 709.65 232.28 709.65 230.71 709.17 228.09 708.21 226.52 706.78 226.00 705.82 226.00M715.94 226.00 714.54 226.52 713.61 228.09 713.15 230.71 713.15 232.28 713.61 234.90 714.54 236.48 715.94 237.00 716.86 237.00 718.26 236.48 719.19 234.90 719.65 232.28 719.65 230.71 719.19 228.09 718.26 226.52 716.86 226.00 715.94 226.00M725.11 226.00 730.37 226.00 727.50 230.19 728.94 230.19 729.89 230.71 730.37 231.24 730.85 232.81 730.85 233.86 730.37 235.43 729.41 236.48 727.98 237.00 726.54 237.00 725.11 236.48 724.63 235.95 724.15 234.90" fill="none" stroke="#000" stroke-width="2.30" stroke-linecap="round" stroke-linejoin="round"/><path d="M691.02 263.00 689.59 263.52 688.63 265.09 688.15 267.71 688.15 269.28 688.63 271.90 689.59 273.48 691.02 274.00 691.98 274.00 693.41 273.48 694.37 271.90 694.85 269.28 694.85 267.71 694.37 265.09 693.41 263.52 691.98 263.00 691.02 263.00" fill="none" stroke="#000" stroke-width="2.30" stroke-linecap="round" stroke-linejoin="round"/><path d="M688.05 306.28 696.75 306.28M703.69 300.00 702.47 300.52 701.66 302.09 701.25 304.71 701.25 306.28 701.66 308.90 702.47 310.48 703.69 311.00 704.51 311.00 705.73 310.48 706.54 308.90 706.95 306.28 706.95 304.71 706.54 302.09 705.73 300.52 704.51 300.00 703.69 300.00M712.50 309.95 712.15 310.48 712.50 311.00 712.85 310.48 712.50 309.95M719.46 300.00 718.01 300.52 717.04 302.09 716.55 304.71 716.55 306.28 717.04 308.90 718.01 310.48 719.46 311.00 720.44 311.00 721.89 310.48 722.86 308.90 723.35 306.28 723.35 304.71 722.86 302.09 721.89 300.52 720.44 300.00 719.46 300.00M730.64 300.00 729.39 300.52 728.56 302.09 728.15 304.71 728.15 306.28 728.56 308.90 729.39 310.48 730.64 311.00 731.46 311.00 732.71 310.48 733.54 308.90 733.95 306.28 733.95 304.71 733.54 302.09 732.71 300.52 731.46 300.00 730.64 300.00M738.28 300.00 743.39 300.00 740.60 304.19 741.99 304.19 742.92 304.71 743.39 305.24 743.85 306.81 743.85 307.86 743.39 309.43 742.46 310.48 741.06 311.00 739.67 311.00 738.28 310.48 737.81 309.95 737.35 308.90" fill="none" stroke="#000" stroke-width="2.30" stroke-linecap="round" stroke-linejoin="round"/><path d="M688.15 392.28 696.65 392.28M707.85 389.66 707.33 391.24 706.30 392.28 704.76 392.81 704.24 392.81 702.70 392.28 701.67 391.24 701.15 389.66 701.15 389.14 701.67 387.57 702.70 386.52 704.24 386.00 704.76 386.00 706.30 386.52 707.33 387.57 707.85 389.66 707.85 392.28 707.33 394.90 706.30 396.48 704.76 397.00 703.73 397.00 702.18 396.48 701.67 395.43M712.45 395.95 711.85 396.48 712.45 397.00 713.05 396.48 712.45 395.95M723.85 389.66 723.33 391.24 722.30 392.28 720.76 392.81 720.24 392.81 718.70 392.28 717.67 391.24 717.15 389.66 717.15 389.14 717.67 387.57 718.70 386.52 720.24 386.00 720.76 386.00 722.30 386.52 723.33 387.57 723.85 389.66 723.85 392.28 723.33 394.90 722.30 396.48 720.76 397.00 719.73 397.00 718.18 396.48 717.67 395.43M727.45 392.81 732.85 392.81 732.85 391.76 732.40 390.71 731.95 390.19 731.05 389.66 729.70 389.66 728.80 390.19 727.90 391.24 727.45 392.81 727.45 393.86 727.90 395.43 728.80 396.48 729.70 397.00 731.05 397.00 731.95 396.48 732.85 395.43M736.05 392.28 744.55 392.28M750.05 386.00 756.10 386.00 752.80 390.19 754.45 390.19 755.55 390.71 756.10 391.24 756.65 392.81 756.65 393.86 756.10 395.43 755.00 396.48 753.35 397.00 751.70 397.00 750.05 396.48 749.50 395.95 748.95 394.90" fill="none" stroke="#000" stroke-width="2.30" stroke-linecap="round" stroke-linejoin="round"/></g><g shape-rendering="crispEdges"><rect x="663" y="195" width="15" height="198" fill="#000"/><rect x="665" y="197" width="11" height="22" fill="#ff7373"/><rect x="665" y="221" width="11" height="10" fill="#ff5500"/><rect x="665" y="233" width="11" height="11" fill="#ff9600"/><rect x="665" y="246" width="11" height="10" fill="#ffc800"/><rect x="665" y="258" width="11" height="10" fill="#ffff00"/><rect x="665" y="270" width="11" height="11" fill="#00ff50"/><rect x="665" y="283" width="11" height="10" fill="#00e6ff"/><rect x="665" y="295" width="11" height="11" fill="#0020ff"/><rect x="665" y="308" width="11" height="10" fill="#0000aa"/><rect x="665" y="320" width="11" height="35" fill="#7800aa"/><rect x="665" y="357" width="11" height="34" fill="#b400aa"/></g><g shape-rendering="crispEdges"><path d="M662.6 197.2 L671.5 164.8 L678.4 197.2 Z" fill="#000"/><path d="M665.3 195.2 L671.6 172.2 L675.8 195.2 Z" fill="#ffb8b8"/><path d="M662.6 392 L671.5 423.6 L678.4 392 Z" fill="#000"/><path d="M665.3 393 L671.4 415.5 L675.8 393 Z" fill="#e600b4"/></g></svg></body></html>
